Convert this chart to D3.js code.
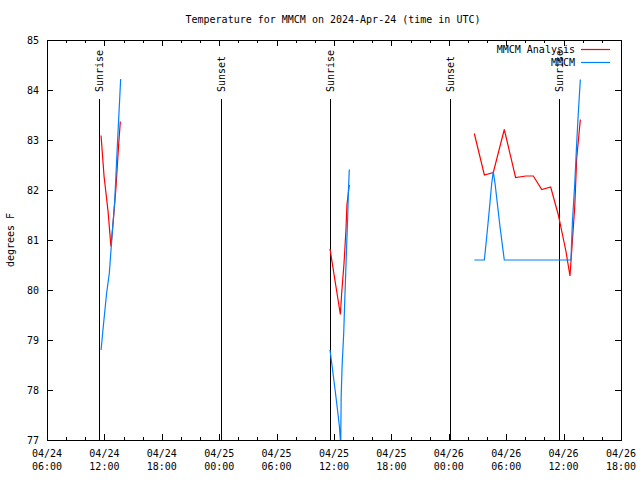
<!DOCTYPE html>
<html>
<head>
<meta charset="utf-8">
<script src="https://cdn.jsdelivr.net/npm/d3@7"></script>
<style>
  html, body { margin: 0; padding: 0; background: #fff; }
  svg { display: block; }
  text { font-family: "DejaVu Sans Mono", "Liberation Mono", monospace; font-size: 10px; fill: #000; }
</style>
</head>
<body>
<svg id="chart" width="640" height="480"></svg>
<script>
// ---- data (UTC times, degrees F) ----
const titleText = "Temperature for MMCM on 2024-Apr-24 (time in UTC)";
const yLabel = "degrees F";
const seriesNames = ["MMCM Analysis", "MMCM"];
const seriesColors = ["#ff0000", "#0080ff"];

const analysisDay1 = [
  ["2024-04-24 11:39", 83.09], ["2024-04-24 11:58", 82.27], ["2024-04-24 12:23", 81.57],
  ["2024-04-24 12:41", 80.87], ["2024-04-24 12:58", 81.47], ["2024-04-24 13:13", 82.07],
  ["2024-04-24 13:30", 82.94], ["2024-04-24 13:40", 83.37]
];
const obsDay1 = [
  ["2024-04-24 11:39", 78.80], ["2024-04-24 11:53", 79.27], ["2024-04-24 12:14", 79.94],
  ["2024-04-24 12:31", 80.34], ["2024-04-24 12:43", 80.87], ["2024-04-24 13:05", 81.80],
  ["2024-04-24 13:23", 83.00], ["2024-04-24 13:42", 84.22]
];
const analysisDay2 = [
  ["2024-04-25 11:35", 80.82], ["2024-04-25 12:40", 79.51], ["2024-04-25 12:48", 79.93],
  ["2024-04-25 13:03", 80.54], ["2024-04-25 13:15", 81.20], ["2024-04-25 13:21", 81.70],
  ["2024-04-25 13:36", 82.10]
];
const obsDay2 = [
  ["2024-04-25 11:35", 78.80], ["2024-04-25 11:46", 78.53], ["2024-04-25 12:07", 78.00],
  ["2024-04-25 12:22", 77.60], ["2024-04-25 12:34", 77.27], ["2024-04-25 12:42", 76.90],
  ["2024-04-25 12:45", 77.87], ["2024-04-25 12:51", 78.50], ["2024-04-25 13:01", 79.14],
  ["2024-04-25 13:07", 79.74], ["2024-04-25 13:13", 80.30], ["2024-04-25 13:20", 80.94],
  ["2024-04-25 13:26", 81.47], ["2024-04-25 13:30", 81.94], ["2024-04-25 13:36", 82.41]
];
const analysisDay3 = [
  ["2024-04-26 02:40", 83.13], ["2024-04-26 03:43", 82.30], ["2024-04-26 04:39", 82.35],
  ["2024-04-26 05:48", 83.21], ["2024-04-26 06:59", 82.25], ["2024-04-26 08:04", 82.28],
  ["2024-04-26 08:50", 82.28], ["2024-04-26 09:43", 82.01], ["2024-04-26 10:39", 82.06],
  ["2024-04-26 11:27", 81.50], ["2024-04-26 12:15", 80.77], ["2024-04-26 12:40", 80.28],
  ["2024-04-26 12:57", 81.07], ["2024-04-26 13:10", 81.67], ["2024-04-26 13:22", 82.63],
  ["2024-04-26 13:45", 83.41]
];
const obsDay3 = [
  ["2024-04-26 02:40", 80.60], ["2024-04-26 03:43", 80.60], ["2024-04-26 03:58", 81.07],
  ["2024-04-26 04:14", 81.60], ["2024-04-26 04:29", 82.13], ["2024-04-26 04:39", 82.37],
  ["2024-04-26 04:50", 82.13], ["2024-04-26 05:21", 81.27], ["2024-04-26 05:48", 80.60],
  ["2024-04-26 12:46", 80.60], ["2024-04-26 12:55", 81.34], ["2024-04-26 13:10", 82.13],
  ["2024-04-26 13:22", 82.93], ["2024-04-26 13:32", 83.53], ["2024-04-26 13:45", 84.21]
];
const sunEvents = [
  ["2024-04-24 11:26", "Sunrise"], ["2024-04-25 00:11", "Sunset"],
  ["2024-04-25 11:33", "Sunrise"], ["2024-04-26 00:08", "Sunset"],
  ["2024-04-26 11:33", "Sunrise"]
];
const xDomain = ["2024-04-24 06:00", "2024-04-26 18:00"];
const yDomain = [77, 85];
const yTickValues = [77, 78, 79, 80, 81, 82, 83, 84, 85];

// ---- drawing ----
const parse = d3.utcParse("%Y-%m-%d %H:%M");
const svg = d3.select("#chart");
const L = 47, R = 621, T = 40, B = 440;

const x = d3.scaleUtc().domain(xDomain.map(parse)).range([L, R]);
const y = d3.scaleLinear().domain(yDomain).range([B, T]);

svg.append("defs").append("clipPath").attr("id", "clip")
  .append("rect").attr("x", L).attr("y", T).attr("width", R - L).attr("height", B - T);

// title
svg.append("text").attr("x", 333).attr("y", 23).attr("text-anchor", "middle").text(titleText);

// y label
svg.append("text").attr("transform", "translate(14,240) rotate(-90)")
  .attr("text-anchor", "middle").text(yLabel);

// axes ticks
const majorTicks = d3.utcHour.every(6).range(x.domain()[0], d3.utcMinute.offset(x.domain()[1], 1));
const minorTicks = d3.utcHour.every(2).range(x.domain()[0], d3.utcMinute.offset(x.domain()[1], 1));

const tickG = svg.append("g").attr("stroke", "#000").attr("stroke-width", 1).attr("shape-rendering", "crispEdges");
minorTicks.forEach(t => {
  const px = Math.round(x(t)) + 0.5;
  tickG.append("line").attr("x1", px).attr("x2", px).attr("y1", B).attr("y2", B - 3);
  tickG.append("line").attr("x1", px).attr("x2", px).attr("y1", T).attr("y2", T + 3);
});
majorTicks.forEach(t => {
  const px = Math.round(x(t)) + 0.5;
  tickG.append("line").attr("x1", px).attr("x2", px).attr("y1", B).attr("y2", B - 6);
  tickG.append("line").attr("x1", px).attr("x2", px).attr("y1", T).attr("y2", T + 6);
});
yTickValues.forEach(v => {
  const py = Math.round(y(v)) + 0.5;
  tickG.append("line").attr("x1", L).attr("x2", L + 6).attr("y1", py).attr("y2", py);
  tickG.append("line").attr("x1", R).attr("x2", R - 6).attr("y1", py).attr("y2", py);
});

// x tick labels
const fDate = d3.utcFormat("%m/%d"), fTime = d3.utcFormat("%H:%M");
majorTicks.forEach(t => {
  const tx = svg.append("text").attr("text-anchor", "middle");
  tx.append("tspan").attr("x", x(t)).attr("y", 457).text(fDate(t));
  tx.append("tspan").attr("x", x(t)).attr("y", 470).text(fTime(t));
});
// y tick labels
yTickValues.forEach(v => {
  svg.append("text").attr("x", 39).attr("y", y(v) + 4).attr("text-anchor", "end").text(v);
});

// sunrise / sunset lines and labels
sunEvents.forEach(([t, label]) => {
  const px = Math.round(x(parse(t))) + 0.5;
  svg.append("line").attr("x1", px).attr("x2", px).attr("y1", 99).attr("y2", B)
    .attr("stroke", "#000").attr("stroke-width", 1).attr("shape-rendering", "crispEdges");
  svg.append("text").attr("transform", `translate(${px + 3.5},92) rotate(-90)`)
    .attr("text-anchor", "start").text(label);
});

// data lines
const line = d3.line().x(d => x(parse(d[0]))).y(d => y(d[1]));
const plotG = svg.append("g").attr("clip-path", "url(#clip)");
[analysisDay1, analysisDay2, analysisDay3].forEach(s => {
  plotG.append("path").datum(s).attr("d", line).attr("fill", "none")
    .attr("stroke", seriesColors[0]).attr("stroke-width", 1.2);
});
[obsDay1, obsDay2, obsDay3].forEach(s => {
  plotG.append("path").datum(s).attr("d", line).attr("fill", "none")
    .attr("stroke", seriesColors[1]).attr("stroke-width", 1.2);
});

// border
svg.append("rect").attr("x", L + 0.5).attr("y", T + 0.5).attr("width", R - L).attr("height", B - T)
  .attr("fill", "none").attr("stroke", "#000").attr("stroke-width", 1).attr("shape-rendering", "crispEdges");

// legend
const legY = [49, 62];
seriesNames.forEach((name, i) => {
  svg.append("text").attr("x", 575).attr("y", legY[i] + 4).attr("text-anchor", "end").text(name);
  svg.append("line").attr("x1", 581).attr("x2", 610).attr("y1", legY[i] + 0.5).attr("y2", legY[i] + 0.5)
    .attr("stroke", seriesColors[i]).attr("stroke-width", 1.2);
});
</script>
</body>
</html>
